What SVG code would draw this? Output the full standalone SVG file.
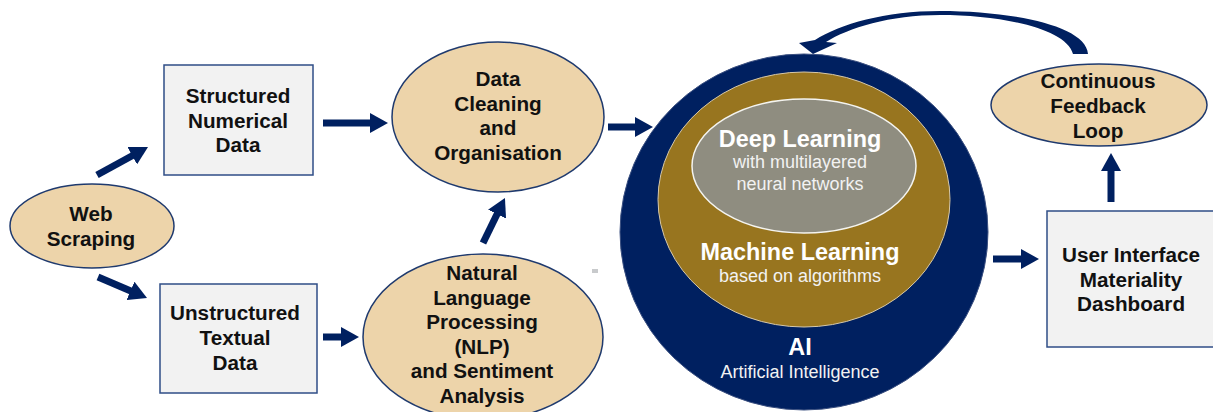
<svg xmlns="http://www.w3.org/2000/svg" width="1213" height="412" viewBox="0 0 1213 412">
<style>
.bg{fill:#ffffff}
.oval{fill:#EDD4AA;stroke:#1F3A6E;stroke-width:1.5}
.box{fill:#F2F2F2;stroke:#2F4D87;stroke-width:1.5}
.t{font-family:"Liberation Sans",Arial,sans-serif;font-weight:bold;font-size:20.7px;fill:#111111;text-anchor:middle}
.wb{font-family:"Liberation Sans",Arial,sans-serif;font-weight:bold;font-size:23.4px;fill:#FFFFFF;text-anchor:middle}
.wr{font-family:"Liberation Sans",Arial,sans-serif;font-size:18px;fill:#F2F2F2;text-anchor:middle}
.arr{stroke:#002060;stroke-width:7;fill:none;marker-end:url(#head)}
</style>
<defs>
<marker id="head" viewBox="0 0 18 20" refX="1" refY="10" markerWidth="18" markerHeight="20" markerUnits="userSpaceOnUse" orient="auto">
<path d="M0,0 L18,10 L0,20 Z" fill="#002060"/>
</marker>
</defs>
<rect class="bg" x="0" y="0" width="1213" height="412"/>

<g id="web-scraping">
<ellipse class="oval" cx="92" cy="226" rx="82" ry="42"/>
<text class="t" x="91" y="221">Web</text>
<text class="t" x="91" y="246">Scraping</text>
</g>

<g id="structured-data">
<rect class="box" x="164" y="65" width="149" height="110"/>
<text class="t" x="238" y="103">Structured</text>
<text class="t" x="238" y="127.5">Numerical</text>
<text class="t" x="238" y="152">Data</text>
</g>

<g id="unstructured-data">
<rect class="box" x="160" y="284" width="157" height="109"/>
<text class="t" x="235" y="320">Unstructured</text>
<text class="t" x="235" y="345">Textual</text>
<text class="t" x="235" y="370">Data</text>
</g>

<g id="data-cleaning">
<ellipse class="oval" cx="498" cy="117" rx="106" ry="75"/>
<text class="t" x="498" y="86">Data</text>
<text class="t" x="498" y="110.5">Cleaning</text>
<text class="t" x="498" y="135">and</text>
<text class="t" x="498" y="159.5">Organisation</text>
</g>

<g id="nlp">
<ellipse class="oval" cx="483" cy="337" rx="120" ry="83"/>
<text class="t" x="482" y="280">Natural</text>
<text class="t" x="482" y="304.5">Language</text>
<text class="t" x="482" y="329">Processing</text>
<text class="t" x="482" y="353.5">(NLP)</text>
<text class="t" x="482" y="378">and Sentiment</text>
<text class="t" x="482" y="402.5">Analysis</text>
</g>

<rect x="592" y="269" width="6" height="4" fill="#C8CACC"/>

<g id="ai">
<ellipse cx="804" cy="232" rx="184" ry="178" fill="#002060" stroke="#3A4F80" stroke-width="1"/>
<g id="machine-learning">
<ellipse cx="804" cy="199.5" rx="146" ry="127.5" fill="#98751F" stroke="#D8C9A8" stroke-width="1"/>
<g id="deep-learning">
<ellipse cx="804" cy="166" rx="112" ry="67" fill="#8F8D80" stroke="#F4F4F0" stroke-width="1.5"/>
<text class="wb" x="800" y="147">Deep Learning</text>
<text class="wr" x="800" y="168">with multilayered</text>
<text class="wr" x="800" y="190">neural networks</text>
</g>
<text class="wb" x="800" y="260">Machine Learning</text>
<text class="wr" x="800" y="282">based on algorithms</text>
</g>
<text class="wb" x="800" y="355">AI</text>
<text class="wr" x="800" y="378">Artificial Intelligence</text>
</g>

<g id="ui-dashboard">
<rect class="box" x="1047" y="211" width="170" height="136"/>
<text class="t" x="1131" y="262">User Interface</text>
<text class="t" x="1131" y="286.5">Materiality</text>
<text class="t" x="1131" y="311">Dashboard</text>
</g>

<g id="feedback-loop">
<ellipse class="oval" cx="1099" cy="105" rx="108" ry="41"/>
<text class="t" x="1098" y="88">Continuous</text>
<text class="t" x="1098" y="113">Feedback</text>
<text class="t" x="1098" y="137.5">Loop</text>
</g>

<g id="connectors">
<line class="arr" x1="97" y1="175" x2="133.1" y2="155.2"/>
<line class="arr" x1="98" y1="277" x2="131.4" y2="291.3"/>
<line class="arr" x1="323" y1="123" x2="371" y2="123"/>
<line class="arr" x1="323" y1="337" x2="342" y2="337"/>
<line class="arr" x1="483" y1="243" x2="497.5" y2="213.3"/>
<line class="arr" x1="608" y1="127" x2="636" y2="127"/>
<line class="arr" x1="993" y1="259" x2="1022" y2="259"/>
<line class="arr" x1="1111" y1="202" x2="1111" y2="170"/>
<path d="M1088,54 C1086,25 1010,11 940,11 C885,11 840,24 815,40 L799,43 L813,54 L837,43 L826,42 C848,28 890,15 940,15 C1000,15 1066,28 1073,54 Z" fill="#002060"/>
</g>
</svg>
